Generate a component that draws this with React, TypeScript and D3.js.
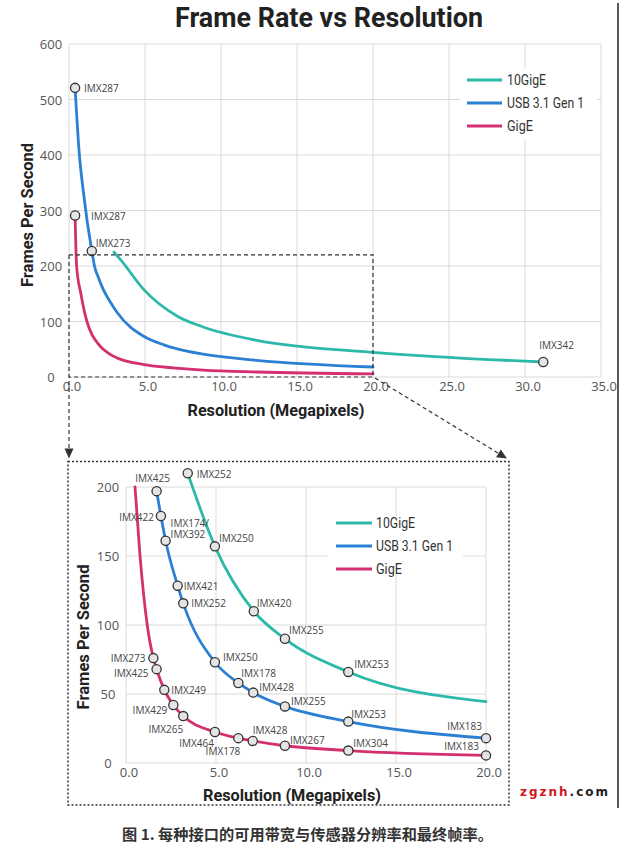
import React from "react";
import * as d3 from "d3";

type Scope = "top" | "bottom" | "both";
type Pt = [number, number, string, Scope];

// ---------- DATA ----------
const seriesNames = ["10GigE", "USB 3.1 Gen 1", "GigE"];

// [megapixels, frames per second, sensor label, which chart]
const tealPoints: Pt[] = [
  [2.96, 225, "", "top"],
  [3.43, 210, "IMX252", "both"],
  [4.94, 157, "IMX250", "both"],
  [7.1, 110, "IMX420", "both"],
  [8.83, 90, "IMX255", "both"],
  [12.35, 66, "IMX253", "both"],
  [20, 44.5, "", "both"],
  [31.2, 27, "IMX342", "top"],
];

const bluePoints: Pt[] = [
  [0.4, 521, "IMX287", "top"],
  [0.68, 401, "", "top"],
  [0.93, 337, "", "top"],
  [1.5, 227, "IMX273", "top"],
  [1.7, 197, "IMX425", "both"],
  [1.94, 179, "IMX422", "both"],
  [2.2, 161, "IMX174/IMX392", "both"],
  [2.87, 128.5, "IMX421", "both"],
  [3.18, 115.7, "IMX252", "both"],
  [4.94, 73, "IMX250", "both"],
  [6.24, 58, "IMX178", "both"],
  [7.07, 51, "IMX428", "both"],
  [8.83, 41, "IMX255", "both"],
  [12.35, 30, "IMX253", "both"],
  [20, 18, "IMX183", "both"],
];

const pinkPoints: Pt[] = [
  [0.4, 291, "IMX287", "top"],
  [0.5, 200, "", "both"],
  [0.78, 150, "", "both"],
  [1.18, 100, "", "both"],
  [1.52, 76, "IMX273", "both"],
  [1.7, 68, "IMX425", "both"],
  [2.13, 53, "IMX249", "both"],
  [2.63, 42, "IMX429", "both"],
  [3.18, 34, "IMX265", "both"],
  [4.94, 22.5, "IMX464", "both"],
  [6.24, 18, "IMX178", "both"],
  [7.04, 16, "IMX428", "both"],
  [8.83, 12.5, "IMX267", "both"],
  [12.35, 9, "IMX304", "both"],
  [20, 5.5, "IMX183", "both"],
];

const topXTicks = [0, 5, 10, 15, 20, 25, 30, 35];
const topYTicks = [0, 100, 200, 300, 400, 500, 600];
const bottomXTicks = [0, 5, 10, 15, 20];
const bottomYTicks = [0, 50, 100, 150, 200];
const zoomMaxMP = 20;
const zoomMaxFPS = 220;

const titleText = "Frame Rate vs Resolution";
const xTitleText = "Resolution (Megapixels)";
const yTitleText = "Frames Per Second";
const captionText = "图 1. 每种接口的可用带宽与传感器分辨率和最终帧率。";

// ---------- STYLES / LAYOUT ----------
const colors = ["#2db9a9", "#2c80d3", "#d4306f"];
const seriesData = [tealPoints, bluePoints, pinkPoints];
const seriesKeys = ["teal", "blue", "pink"];

type Off = [number, number, "start" | "middle" | "end"];
const labelOffsets: Record<string, Off> = {
  // top chart
  "top-blue-IMX287": [9, 0, "start"],
  "top-pink-IMX287": [16, 1, "start"],
  "top-blue-IMX273": [4, -8, "start"],
  "top-teal-IMX342": [-4, -17, "start"],
  // bottom chart
  "bottom-teal-IMX252": [9, 1, "start"],
  "bottom-teal-IMX250": [4, -8, "start"],
  "bottom-teal-IMX420": [3, -8, "start"],
  "bottom-teal-IMX255": [4, -9, "start"],
  "bottom-teal-IMX253": [6, -8, "start"],
  "bottom-blue-IMX425": [-4, -13, "middle"],
  "bottom-blue-IMX422": [-7, 1, "end"],
  "bottom-blue-IMX174/IMX392": [5, -18, "start"],
  "bottom-blue-IMX421": [6, 0, "start"],
  "bottom-blue-IMX252": [8, 0, "start"],
  "bottom-blue-IMX250": [8, -5, "start"],
  "bottom-blue-IMX178": [3, -10, "start"],
  "bottom-blue-IMX428": [6, -6, "start"],
  "bottom-blue-IMX255": [6, -5, "start"],
  "bottom-blue-IMX253": [3, -8, "start"],
  "bottom-blue-IMX183": [-4, -12, "end"],
  "bottom-pink-IMX273": [-8, 0, "end"],
  "bottom-pink-IMX425": [-8, 4, "end"],
  "bottom-pink-IMX249": [7, 0, "start"],
  "bottom-pink-IMX429": [-6, 5, "end"],
  "bottom-pink-IMX265": [0, 13, "end"],
  "bottom-pink-IMX464": [-1, 11, "end"],
  "bottom-pink-IMX178": [2, 13, "end"],
  "bottom-pink-IMX428": [0, -11, "start"],
  "bottom-pink-IMX267": [5, -6, "start"],
  "bottom-pink-IMX304": [5, -8, "start"],
  "bottom-pink-IMX183": [-7, -9, "end"],
};
const legendTextWidth: Record<string, number> = {
  "10GigE": 39,
  "USB 3.1 Gen 1": 77,
  GigE: 26,
};

const W = 637;
const H = 856;
const GRID = "#dadada";
const DARK = "#333";
const TICK_FONT = "'Open Sans', 'DejaVu Sans', sans-serif";
const HEAD_FONT = "Roboto, 'Liberation Sans', sans-serif";

type Scale = d3.ScaleLinear<number, number>;

function Arrow({ x1, y1, x2, y2 }: { x1: number; y1: number; x2: number; y2: number }) {
  const dx = x2 - x1;
  const dy = y2 - y1;
  const len = Math.hypot(dx, dy);
  const ux = dx / len;
  const uy = dy / len;
  const L = 10;
  const hw = 4.5;
  const bx = x2 - ux * L;
  const by = y2 - uy * L;
  const pts = [
    [x2, y2],
    [bx - uy * hw, by + ux * hw],
    [bx + uy * hw, by - ux * hw],
  ];
  return (
    <g>
      <line x1={x1} y1={y1} x2={bx} y2={by} stroke={DARK} strokeWidth={1.2} strokeDasharray="4,3" />
      <polygon points={pts.map((p) => p.join(",")).join(" ")} fill={DARK} />
    </g>
  );
}

function Chart({
  which,
  x,
  y,
  xTicks,
  yTicks,
  yTickX,
  xTickY,
  xTitle,
  yTitle,
  legend,
}: {
  which: "top" | "bottom";
  x: Scale;
  y: Scale;
  xTicks: number[];
  yTicks: number[];
  yTickX: number;
  xTickY: number;
  xTitle: { x: number; y: number; w: number };
  yTitle: { x: number; y: number; w: number };
  legend: { box: [number, number, number, number]; ys: number[]; x1: number; x2: number; tx: number };
}) {
  const [x0, x1] = x.range();
  const [y0, y1] = y.range();
  const line = d3
    .line<Pt>()
    .x((d) => x(d[0]))
    .y((d) => y(d[1]))
    .curve(d3.curveMonotoneX);
  const inChart = (p: Pt) => (which === "top" ? p[3] !== "bottom" : p[3] !== "top");
  const hasMarker = (p: Pt) => p[2] !== "" && (which === "top" ? p[3] === "top" : p[3] !== "top");

  return (
    <g>
      {/* grid */}
      {xTicks.map((t) => (
        <line key={"gx" + t} x1={x(t)} x2={x(t)} y1={y1} y2={y0} stroke={GRID} strokeWidth={1} />
      ))}
      {yTicks.map((t) => (
        <line key={"gy" + t} x1={x0} x2={x1} y1={y(t)} y2={y(t)} stroke={GRID} strokeWidth={1} />
      ))}
      {/* tick labels */}
      {xTicks.map((t) => (
        <text
          key={"tx" + t}
          x={x(t) + 3}
          y={xTickY}
          textAnchor="middle"
          dominantBaseline="central"
          fontFamily={TICK_FONT}
          fontSize={13}
          fill="#555"
        >
          {t.toFixed(1)}
        </text>
      ))}
      {yTicks.map((t) => (
        <text
          key={"ty" + t}
          x={yTickX}
          y={y(t)}
          textAnchor="middle"
          dominantBaseline="central"
          fontFamily={TICK_FONT}
          fontSize={13}
          fill="#555"
        >
          {t}
        </text>
      ))}
      {/* axis titles */}
      <text
        x={xTitle.x}
        y={xTitle.y}
        textAnchor="middle"
        dominantBaseline="central"
        fontFamily={HEAD_FONT}
        fontWeight={700}
        fontSize={17}
        fill="#222"
        textLength={xTitle.w}
        lengthAdjust="spacingAndGlyphs"
      >
        {xTitleText}
      </text>
      <text
        transform={`translate(${yTitle.x},${yTitle.y}) rotate(-90)`}
        textAnchor="middle"
        dominantBaseline="central"
        fontFamily={HEAD_FONT}
        fontWeight={700}
        fontSize={17}
        fill="#222"
        textLength={yTitle.w}
        lengthAdjust="spacingAndGlyphs"
      >
        {yTitleText}
      </text>
      {/* legend */}
      <rect x={legend.box[0]} y={legend.box[1]} width={legend.box[2]} height={legend.box[3]} fill="#fff" />
      {seriesNames.map((n, i) => (
        <g key={"lg" + n}>
          <line x1={legend.x1} x2={legend.x2} y1={legend.ys[i]} y2={legend.ys[i]} stroke={colors[i]} strokeWidth={3} />
          <text
            x={legend.tx}
            y={legend.ys[i]}
            dominantBaseline="central"
            fontFamily={HEAD_FONT}
            fontSize={15}
            fill="#333"
            textLength={legendTextWidth[n]}
            lengthAdjust="spacingAndGlyphs"
          >
            {n}
          </text>
        </g>
      ))}
      {/* curves */}
      {seriesData.map((pts, i) => (
        <path
          key={"c" + i}
          d={line(pts.filter(inChart)) || ""}
          fill="none"
          stroke={colors[i]}
          strokeWidth={2.8}
          strokeLinecap="round"
        />
      ))}
      {/* markers + labels */}
      {seriesData.map((pts, i) =>
        pts.filter(hasMarker).map((p) => {
          const key = `${which}-${seriesKeys[i]}-${p[2]}`;
          const off = labelOffsets[key] || [8, 0, "start"];
          const cx = x(p[0]);
          const cy = y(p[1]);
          const lines = p[2].includes("/") ? [p[2].split("/")[0] + "/", p[2].split("/")[1]] : [p[2]];
          return (
            <g key={key}>
              <circle cx={cx} cy={cy} r={4.6} fill="#e4e4e4" stroke={DARK} strokeWidth={1.3} />
              <text
                x={cx + off[0]}
                y={cy + off[1]}
                textAnchor={off[2]}
                dominantBaseline="central"
                fontFamily={TICK_FONT}
                fontSize={10}
                fill="#444"
              >
                {lines.map((t, k) => (
                  <tspan key={k} x={cx + off[0]} dy={k === 0 ? 0 : 11}>
                    {t}
                  </tspan>
                ))}
              </text>
            </g>
          );
        })
      )}
    </g>
  );
}

export default function App() {
  const xT = d3.scaleLinear().domain([0, 35]).range([69, 601]);
  const yT = d3.scaleLinear().domain([0, 600]).range([377, 44]);
  const xB = d3.scaleLinear().domain([0, 20]).range([126, 486]);
  const yB = d3.scaleLinear().domain([0, 200]).range([763, 487]);

  const zx0 = xT(0);
  const zx1 = xT(zoomMaxMP);
  const zy0 = yT(0);
  const zy1 = yT(zoomMaxFPS);

  const boxL = 68;
  const boxR = 509;
  const boxT = 461.5;
  const boxB = 805;

  return (
    <svg
      width={W}
      height={H}
      viewBox={`0 0 ${W} ${H}`}
      style={{ position: "absolute", left: 0, top: 0, background: "#fff" }}
    >
      <rect x={0} y={0} width={W} height={H} fill="#fff" />
      <text
        x={329}
        y={27}
        textAnchor="middle"
        fontFamily={HEAD_FONT}
        fontWeight={700}
        fontSize={27}
        fill="#222"
        textLength={308}
        lengthAdjust="spacingAndGlyphs"
      >
        {titleText}
      </text>

      <Chart
        which="top"
        x={xT}
        y={yT}
        xTicks={topXTicks}
        yTicks={topYTicks}
        yTickX={51}
        xTickY={386}
        xTitle={{ x: 276, y: 410, w: 177 }}
        yTitle={{ x: 27, y: 215, w: 144 }}
        legend={{ box: [460, 68, 137, 72], ys: [80, 103, 126], x1: 467, x2: 502, tx: 507 }}
      />

      {/* zoom rectangle on top chart */}
      <path
        d={`M${zx0},${zy1} H${zx1} V${zy0} H${zx0}`}
        fill="none"
        stroke={DARK}
        strokeWidth={1.2}
        strokeDasharray="4,3"
      />
      <Arrow x1={zx0} y1={zy1} x2={zx0} y2={boxT - 3} />
      <Arrow x1={zx1 + 2} y1={zy0 + 1} x2={boxR - 2} y2={boxT - 3} />

      {/* bottom dotted frame */}
      <rect
        x={boxL}
        y={boxT}
        width={boxR - boxL}
        height={boxB - boxT}
        fill="none"
        stroke={DARK}
        strokeWidth={1.5}
        strokeDasharray="2,2"
      />

      <Chart
        which="bottom"
        x={xB}
        y={yB}
        xTicks={bottomXTicks}
        yTicks={bottomYTicks}
        yTickX={108}
        xTickY={772}
        xTitle={{ x: 292, y: 795, w: 178 }}
        yTitle={{ x: 83, y: 637, w: 145 }}
        legend={{ box: [328, 516, 135, 57], ys: [523, 546, 569], x1: 336, x2: 372, tx: 376 }}
      />

      {/* watermark */}
      <text
        x={520}
        y={792}
        dominantBaseline="central"
        fontFamily="'DejaVu Sans', sans-serif"
        fontWeight={700}
        fontSize={12}
        textLength={88}
        lengthAdjust="spacing"
      >
        <tspan fill="#d2161f">zgznh</tspan>
        <tspan fill="#222">.com</tspan>
      </text>

      {/* right border line */}
      <line x1={618} x2={618} y1={3} y2={808} stroke="#222" strokeWidth={1.5} />

      {/* caption */}
      <text
        x={122}
        y={833}
        dominantBaseline="central"
        fontFamily="'Noto Sans CJK SC', sans-serif"
        fontWeight={700}
        fontSize={15}
        fill="#333"
        textLength={371}
        lengthAdjust="spacingAndGlyphs"
      >
        {captionText}
      </text>
    </svg>
  );
}
